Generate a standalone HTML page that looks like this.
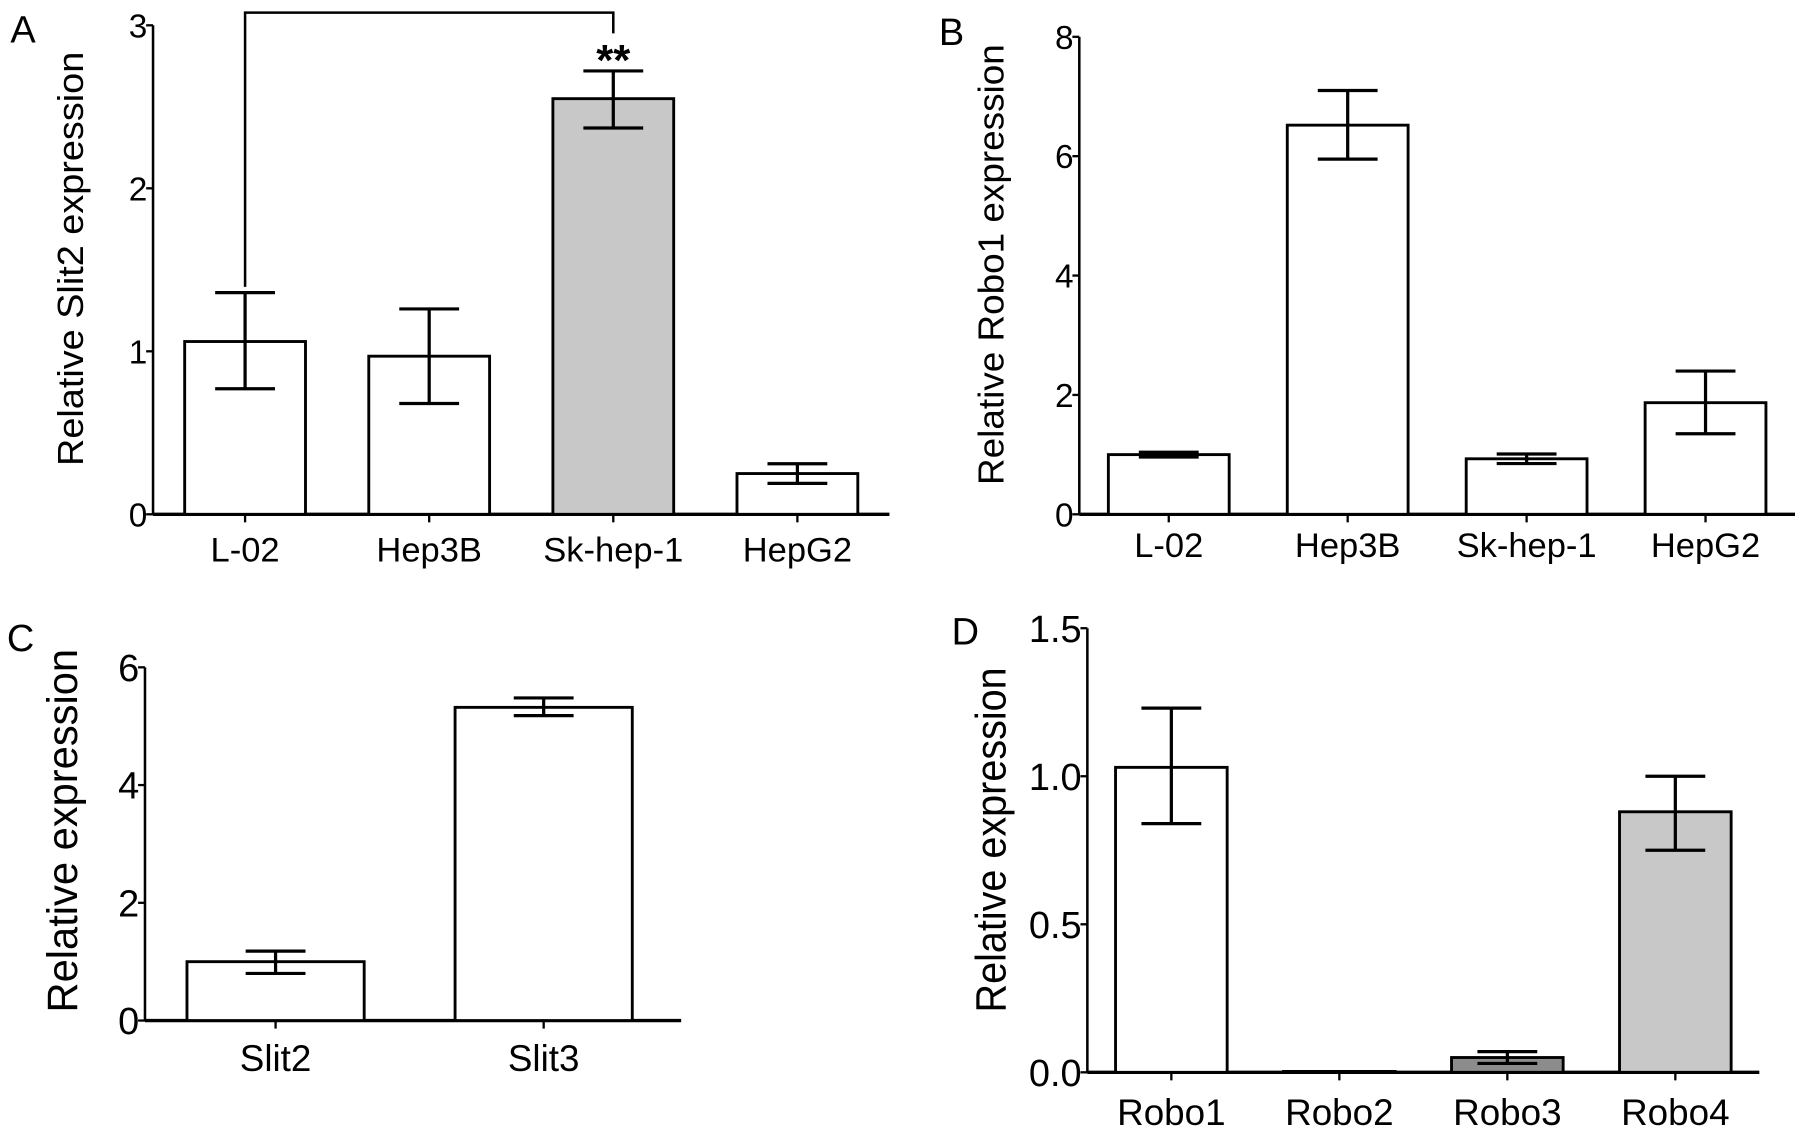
<!DOCTYPE html>
<html><head><meta charset="utf-8"><style>
html,body{margin:0;padding:0;background:#fff}
svg{display:block}
text{font-family:"Liberation Sans",Arial,sans-serif;fill:#000}
</style></head><body>
<svg id="fig" width="1795" height="1131" viewBox="0 0 1560 983" preserveAspectRatio="none" xmlns="http://www.w3.org/2000/svg">
<rect width="1560" height="983" fill="#fff"/>
</svg>
<script>
// Panel A
const catsA = ["L-02","Hep3B","Sk-hep-1","HepG2"];
const valsA = [1.06,0.97,2.55,0.25];
const errLoA = [0.77,0.68,2.37,0.19];
const errHiA = [1.36,1.26,2.72,0.31];
const ticksA = ["0","1","2","3"];
// Panel B
const catsB = ["L-02","Hep3B","Sk-hep-1","HepG2"];
const valsB = [1.0,6.52,0.93,1.87];
const errLoB = [0.96,5.95,0.85,1.35];
const errHiB = [1.04,7.1,1.01,2.4];
const ticksB = ["0","2","4","6","8"];
// Panel C
const catsC = ["Slit2","Slit3"];
const valsC = [1.0,5.32];
const errLoC = [0.8,5.18];
const errHiC = [1.18,5.48];
const ticksC = ["0","2","4","6"];
// Panel D
const catsD = ["Robo1","Robo2","Robo3","Robo4"];
const valsD = [1.03,0.003,0.05,0.88];
const errLoD = [0.84,0.003,0.03,0.75];
const errHiD = [1.23,0.003,0.07,1.0];
const ticksD = ["0.0","0.5","1.0","1.5"];

const svg = document.getElementById('fig');
const NS = "http://www.w3.org/2000/svg";
function mk(tag, attrs, parent){
  const e = document.createElementNS(NS, tag);
  for (const k in attrs) e.setAttribute(k, attrs[k]);
  (parent||svg).appendChild(e);
  return e;
}
function panel(cfg){
  const g = mk('g', {});
  
  
  const ymax = parseFloat(cfg.ticks[cfg.ticks.length-1]);
  const yS = v => cfg.y0 - (v/ymax)*(cfg.y0-cfg.yTop);
  const ya = mk('line',{x1:cfg.ax,y1:cfg.yTop,x2:cfg.ax,y2:cfg.y0,stroke:'#000','stroke-width':2.2},g);
  
  
  cfg.ticks.forEach(t=>{
    const y = yS(parseFloat(t));
    mk('line',{x1:cfg.ax-6,y1:y,x2:cfg.ax,y2:y,stroke:'#000','stroke-width':2},g);
    const tx = mk('text',{x:cfg.ax-5,y:y+cfg.fs*0.36,'text-anchor':'end','font-size':cfg.fs},g);
    tx.textContent = t;
    
    
  });
  const xa = mk('line',{x1:cfg.ax,y1:cfg.y0,x2:cfg.ax+cfg.step*cfg.cats.length,y2:cfg.y0,stroke:'#000','stroke-width':3},g);
  
  
  cfg.cats.forEach((c,i)=>{
    const cx = cfg.ax + cfg.step*(i+0.5) + cfg.off;
    const bw = cfg.bw;
    const top = yS(cfg.vals[i]);
    const b = mk('rect',{x:cx-bw/2,y:top,width:bw,height:Math.max(cfg.y0-top,0.5),fill:cfg.fills[i],stroke:'#000','stroke-width':2.5},g);
    
    
    const lo = yS(cfg.lo[i]), hi = yS(cfg.hi[i]);
    if (cfg.hi[i]-cfg.lo[i] > 0.0001){
      const eb = mk('path',{d:`M${cx},${lo}V${hi}M${cx-26},${hi}H${cx+26}M${cx-26},${lo}H${cx+26}`,stroke:'#000','stroke-width':2.8,fill:'none'},g);
      
      
    }
    mk('line',{x1:cx,y1:cfg.y0,x2:cx,y2:cfg.y0+7,stroke:'#000','stroke-width':2},g);
    const lt = mk('text',{x:cx,y:cfg.lby,'text-anchor':'middle','font-size':cfg.lfs},g);
    lt.textContent = c;
    
    
  });
  const yt = mk('text',{x:0,y:0,'text-anchor':'middle','font-size':cfg.tfs,textLength:cfg.tlen,lengthAdjust:'spacingAndGlyphs',transform:`translate(${cfg.tx},${cfg.ty}) rotate(-90)`},g);
  yt.textContent = cfg.title;
  
  
  const pl = mk('text',{x:cfg.lx,y:cfg.ly,'font-size':33},g);
  pl.textContent = cfg.letter;
  
  
  return {g,yS};
}
const W='#fff', G='#c8c8c8', DG='#8c8c8c';
const cfgA = {name:'panel-a',cats:catsA,vals:valsA,lo:errLoA,hi:errHiA,ticks:ticksA,ax:133,yTop:22,y0:447,step:160,off:0,bw:105,fills:[W,W,G,W],fs:29,lfs:30,lby:488,tfs:31,tlen:360,tx:72,ty:225,title:'Relative Slit2 expression',letter:'A',lx:9,ly:37};
const pA = panel(cfgA);
const xL = cfgA.ax + cfgA.step*0.5, xR = cfgA.ax + cfgA.step*2.5;
const br = mk('path',{d:`M${xL},${pA.yS(errHiA[0])-5}V11H${xR}V29`,stroke:'#000','stroke-width':2.2,fill:'none'},pA.g);


const st = mk('text',{x:xR,y:65,'text-anchor':'middle','font-size':38,'font-weight':'bold'},pA.g);
st.textContent = '**';



panel({name:'panel-b',cats:catsB,vals:valsB,lo:errLoB,hi:errHiB,ticks:ticksB,ax:938,yTop:32,y0:447,step:155.5,off:0,bw:105,fills:[W,W,W,W],fs:29,lfs:30,lby:484,tfs:31,tlen:383,tx:872,ty:230,title:'Relative Robo1 expression',letter:'B',lx:816,ly:39});
panel({name:'panel-c',cats:catsC,vals:valsC,lo:errLoC,hi:errHiC,ticks:ticksC,ax:126,yTop:580,y0:887,step:233,off:-3,bw:154,fills:[W,W],fs:33,lfs:32,lby:931,tfs:37,tlen:316,tx:67,ty:722,title:'Relative expression',letter:'C',lx:6,ly:566});
panel({name:'panel-d',cats:catsD,vals:valsD,lo:errLoD,hi:errHiD,ticks:ticksD,ax:945,yTop:546,y0:932,step:146,off:0,bw:97,fills:[W,W,DG,G],fs:33,lfs:32,lby:978,tfs:37,tlen:300,tx:874,ty:730,title:'Relative expression',letter:'D',lx:827,ly:560});
</script>
</body></html>
